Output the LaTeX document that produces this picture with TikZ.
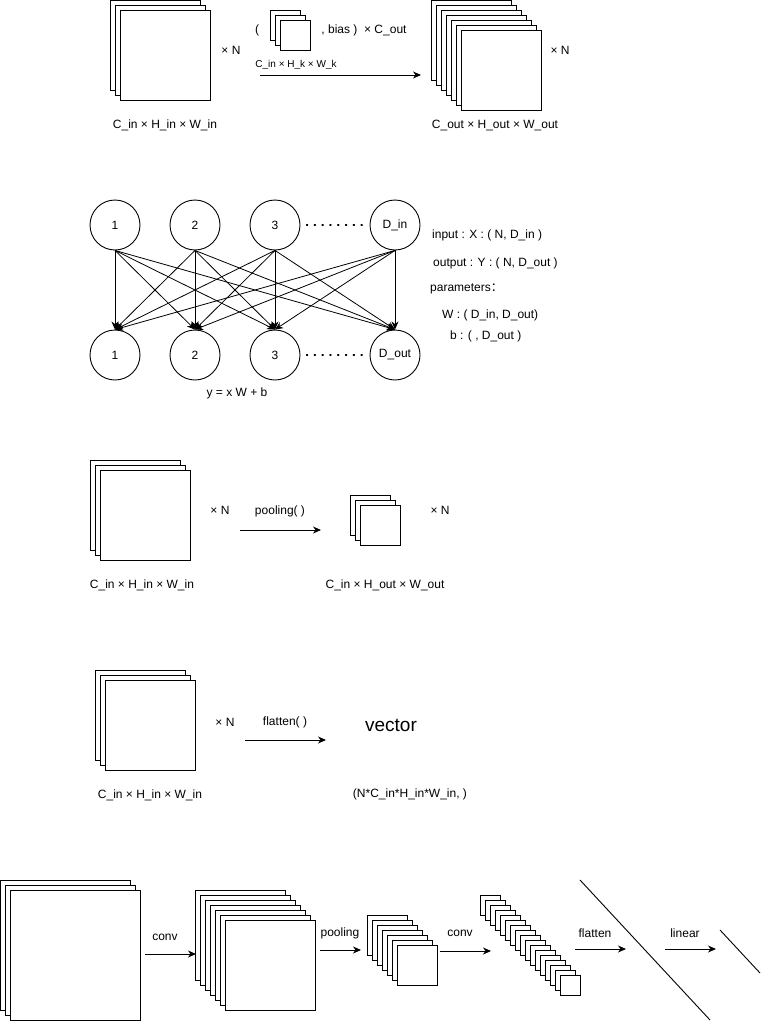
\documentclass[tikz,border=0pt]{standalone}
\usepackage{fontspec}
\setmainfont{Liberation Sans}
\newfontfamily\cjkfont{Noto Sans CJK SC}
\usetikzlibrary{arrows.meta}
\begin{document}
\begin{tikzpicture}[x=1pt,y=-1pt,
  sq/.style={draw=black, fill=white, line width=1pt, inner sep=0pt, outer sep=0pt, anchor=north west},
  nn/.style={draw, circle, minimum size=50pt, inner sep=0pt, line width=0.9pt, font=\fontsize{12}{14}\selectfont},
  lbl/.style={inner sep=0pt, font=\fontsize{12}{14}\selectfont},
  smalllbl/.style={inner sep=0pt, font=\fontsize{10}{12}\selectfont},
  arr/.style={-{Stealth[length=8pt,width=7pt,inset=2.5pt]}, line width=1pt},
  nnarr/.style={-{Stealth[length=8pt,width=7pt,inset=2.5pt]}, line width=0.8pt},
  dotline/.style={line width=1.2pt, dash pattern=on 1.2pt off 6.6pt, line cap=round},
]
\useasboundingbox (0,0) rectangle (762,1023);

% ---------- convolution ----------
\foreach \i in {0,1,2} \node[sq, minimum size=90pt] (inA\i) at ({110+5*\i},{0.5+5*\i}) {};
\node[lbl] (xnA) at (231,50) {× N};
\foreach \i in {0,1,2} \node[sq, minimum size=30pt] (kA\i) at ({270+5*\i},{10+5*\i}) {};
\node[lbl] (parA) at (257,30) {(};
\node[lbl] (biasA) at (364,30) {, bias )\ \ × C\_out};
\node[smalllbl] (kdimA) at (296,65) {C\_in × H\_k × W\_k};
\coordinate (aA1) at (260,75);
\coordinate (aA2) at (421,75);
\draw[arr] (aA1) -- (aA2);
\foreach \i in {0,...,6} \node[sq, minimum size=80pt] (outA\i) at ({431+5*\i},{0.5+5*\i}) {};
\node[lbl] (xnA2) at (560,50) {× N};
\node[lbl] (labA1) at (165,125) {C\_in × H\_in × W\_in};
\node[lbl] (labA2) at (495,125) {C\_out × H\_out × W\_out};

% ---------- linear layer ----------
\node[nn] (t1) at (115,225) {1};
\node[nn] (t2) at (195,225) {2};
\node[nn] (t3) at (275,225) {3};
\node[nn] (t4) at (395,225) {D\_in};
\node[nn] (b1) at (115,355) {1};
\node[nn] (b2) at (195,355) {2};
\node[nn] (b3) at (275,355) {3};
\node[nn] (b4) at (395,355) {D\_out};
\draw[dotline] (t3.east) ++(6,0) -- ([xshift=-4pt]t4.west);
\draw[dotline] (b3.east) ++(6,0) -- ([xshift=-4pt]b4.west);
\foreach \s in {1,2,3,4}
  \foreach \t in {1,2,3,4}
    \draw[nnarr] (t\s.south) -- (b\t.north);
\node[lbl, anchor=west] (inp) at (432,235) {input : X : ( N, D\_in )};
\node[lbl, anchor=west] (outp) at (433,263) {output : Y : ( N, D\_out )};
\node[lbl, anchor=west] (par) at (430,289) {parameters{\cjkfont ：}};
\node[lbl, anchor=west] (parW) at (442,315) {W : ( D\_in, D\_out)};
\node[lbl, anchor=west] (parb) at (450,336) {b : ( , D\_out )};
\node[lbl] (eq) at (237,393) {y = x W + b};

% ---------- pooling ----------
\foreach \i in {0,1,2} \node[sq, minimum size=90pt] (inC\i) at ({90+5*\i},{460+5*\i}) {};
\node[lbl] (xnC) at (220,510) {× N};
\node[lbl] (poolC) at (280,511) {pooling( )};
\coordinate (aC1) at (240,530);
\coordinate (aC2) at (321,530);
\draw[arr] (aC1) -- (aC2);
\foreach \i in {0,1,2} \node[sq, minimum size=40pt] (outC\i) at ({350+5*\i},{495+5*\i}) {};
\node[lbl] (xnC2) at (440,510) {× N};
\node[lbl] (labC1) at (142,585) {C\_in × H\_in × W\_in};
\node[lbl] (labC2) at (385,585) {C\_in × H\_out × W\_out};

% ---------- flatten ----------
\foreach \i in {0,1,2} \node[sq, minimum size=90pt] (inD\i) at ({95+5*\i},{670+5*\i}) {};
\node[lbl] (xnD) at (225,722) {× N};
\node[lbl] (flatD) at (285,722) {flatten( )};
\coordinate (aD1) at (245,740);
\coordinate (aD2) at (326,740);
\draw[arr] (aD1) -- (aD2);
\node[inner sep=0pt, font=\fontsize{19}{22}\selectfont] (vec) at (391,725) {vector};
\node[lbl] (labD2) at (410,794) {(N*C\_in*H\_in*W\_in, )};
\node[lbl] (labD1) at (150,795) {C\_in × H\_in × W\_in};

% ---------- CNN pipeline ----------
\foreach \i in {0,1,2} \node[sq, minimum size=130pt] (e1\i) at ({0.5+5*\i},{880+5*\i}) {};
\node[lbl] (convE1) at (165,937) {conv};
\coordinate (aE1) at (145,954);
\coordinate (aE2) at (196,954);
\draw[arr] (aE1) -- (aE2);
\foreach \i in {0,...,6} \node[sq, minimum size=90pt] (e2\i) at ({195+5*\i},{890+5*\i}) {};
\node[lbl] (poolE) at (340,933) {pooling};
\coordinate (aE3) at (320,950);
\coordinate (aE4) at (361,950);
\draw[arr] (aE3) -- (aE4);
\foreach \i in {0,...,6} \node[sq, minimum size=40pt] (e3\i) at ({367+5*\i},{915+5*\i}) {};
\node[lbl] (convE2) at (460,933) {conv};
\coordinate (aE5) at (440,951);
\coordinate (aE6) at (491,951);
\draw[arr] (aE5) -- (aE6);
\foreach \i in {0,...,16} \node[sq, minimum size=20pt] (e4\i) at ({480+5*\i},{895+5*\i}) {};
\node[lbl] (flatE) at (595,933) {flatten};
\coordinate (aE7) at (575,949);
\coordinate (aE8) at (626,949);
\draw[arr] (aE7) -- (aE8);
\draw[line width=0.9pt] (580,880) -- (710,1020);
\node[lbl] (linE) at (685,933) {linear};
\coordinate (aE9) at (665,949);
\coordinate (aE10) at (716,949);
\draw[arr] (aE9) -- (aE10);
\draw[line width=0.9pt] (720,930) -- (760,973);
\end{tikzpicture}
\end{document}
